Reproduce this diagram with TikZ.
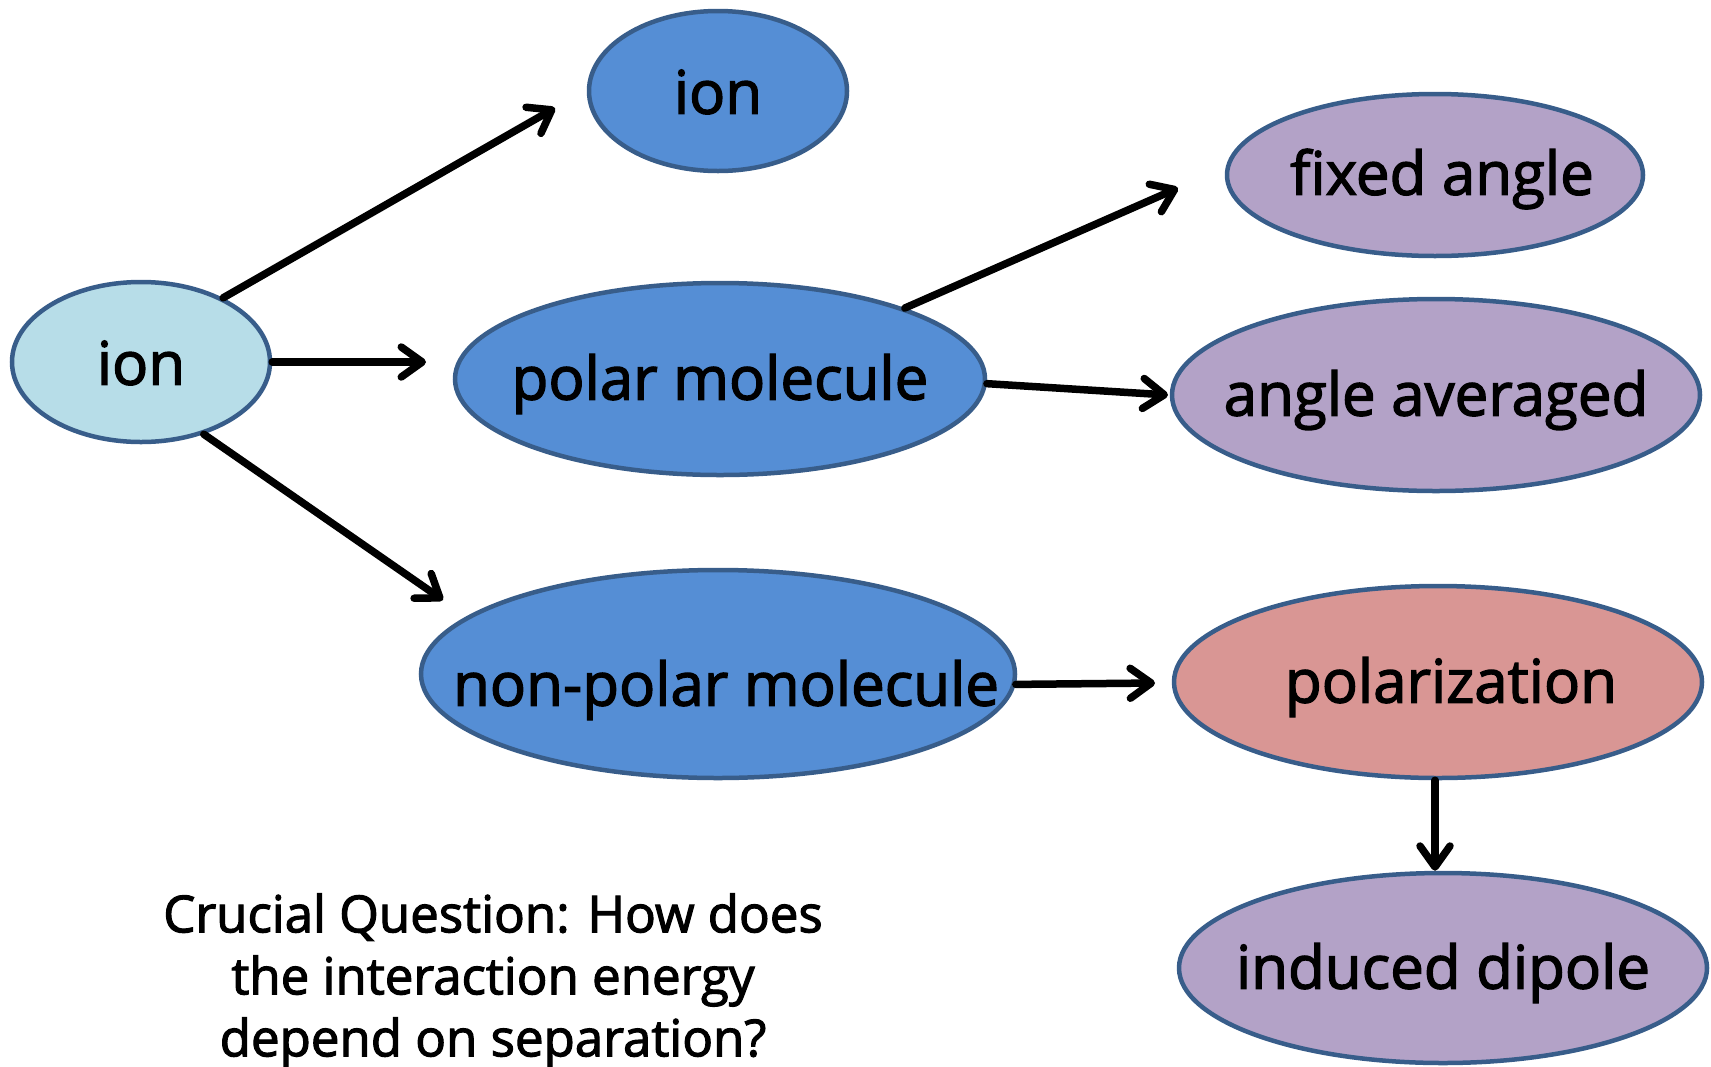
\documentclass[tikz,border=0pt]{standalone}
\usepackage{fontspec}
\setmainfont{Open Sans}[AutoFakeBold=2.2]
\usetikzlibrary{shapes.geometric,arrows.meta}
\definecolor{lightblue}{HTML}{B7DDE8}
\definecolor{midblue}{HTML}{558ED5}
\definecolor{lilac}{HTML}{B3A2C7}
\definecolor{rose}{HTML}{D99694}
\definecolor{edge}{HTML}{385D8A}
\newcommand{\ctext}[2][5pt]{\raisebox{-#1}[\height][\depth]{\makebox[0pt]{\bfseries #2}}}
\tikzset{
  bubble/.style={ellipse, draw=edge, line width=4.5pt, inner sep=0pt,
    font=\fontsize{60}{72}\selectfont, text=black},
  conn/.style={line width=7.5pt, draw=black, line cap=round,
    -{Straight Barb[length=21pt,width=30pt,line cap=round,line join=round]}},
  question/.style={align=center, font=\fontsize{51}{62}\selectfont\bfseries, inner sep=0pt}
}
\begin{document}
\begin{tikzpicture}[x=1pt,y=-1pt]
\useasboundingbox[fill=white] (0,0) rectangle (1711,1066);
\node[bubble, fill=lightblue, minimum width=258pt, minimum height=160pt] (ionA) at (141,362) {\ctext[1pt]{ion}};
\node[bubble, fill=midblue, minimum width=258pt, minimum height=160pt] (ionB) at (718,91) {\ctext[1pt]{ion}};
\node[bubble, fill=midblue, minimum width=530pt, minimum height=192pt] (polar) at (720,379) {\ctext{polar molecule}};
\node[bubble, fill=midblue, minimum width=594pt, minimum height=208pt] (nonpolar) at (718,674) {\ctext[16pt]{\hspace*{16pt}non-polar molecule}};
\node[bubble, fill=lilac, minimum width=416pt, minimum height=162pt] (fixed) at (1435,175) {\ctext[4pt]{\hspace*{14pt}fixed angle}};
\node[bubble, fill=lilac, minimum width=528pt, minimum height=192pt] (avg) at (1436,395) {\ctext{angle averaged}};
\node[bubble, fill=rose, minimum width=528pt, minimum height=192pt] (pol) at (1438,682) {\ctext{\hspace*{26pt}polarization}};
\node[bubble, fill=lilac, minimum width=528pt, minimum height=190pt] (ind) at (1443,968) {\ctext{induced dipole}};
\node[question] (q) at (493,981) {Crucial Question: How does\\the interaction energy\\depend on separation?};
\coordinate (eB) at (555,108);
\coordinate (eP) at (426,362);
\coordinate (eN) at (443,600);
\coordinate (eF) at (1178,188);
\coordinate (eA) at (1168,395);
\coordinate (eR) at (1155,683);
\draw[conn] (ionA.38.7) -- (eB);
\draw[conn] (ionA.east) -- (eP);
\draw[conn] (ionA.-49.7) -- (eN);
\draw[conn] (polar.21) -- (eF);
\draw[conn] (polar.-1.5) -- (eA);
\draw[conn] (nonpolar.-2.5) -- (eR);
\draw[conn] (pol.south -| 1435,0) -- (1435,0 |- ind.north);
\end{tikzpicture}
\end{document}
